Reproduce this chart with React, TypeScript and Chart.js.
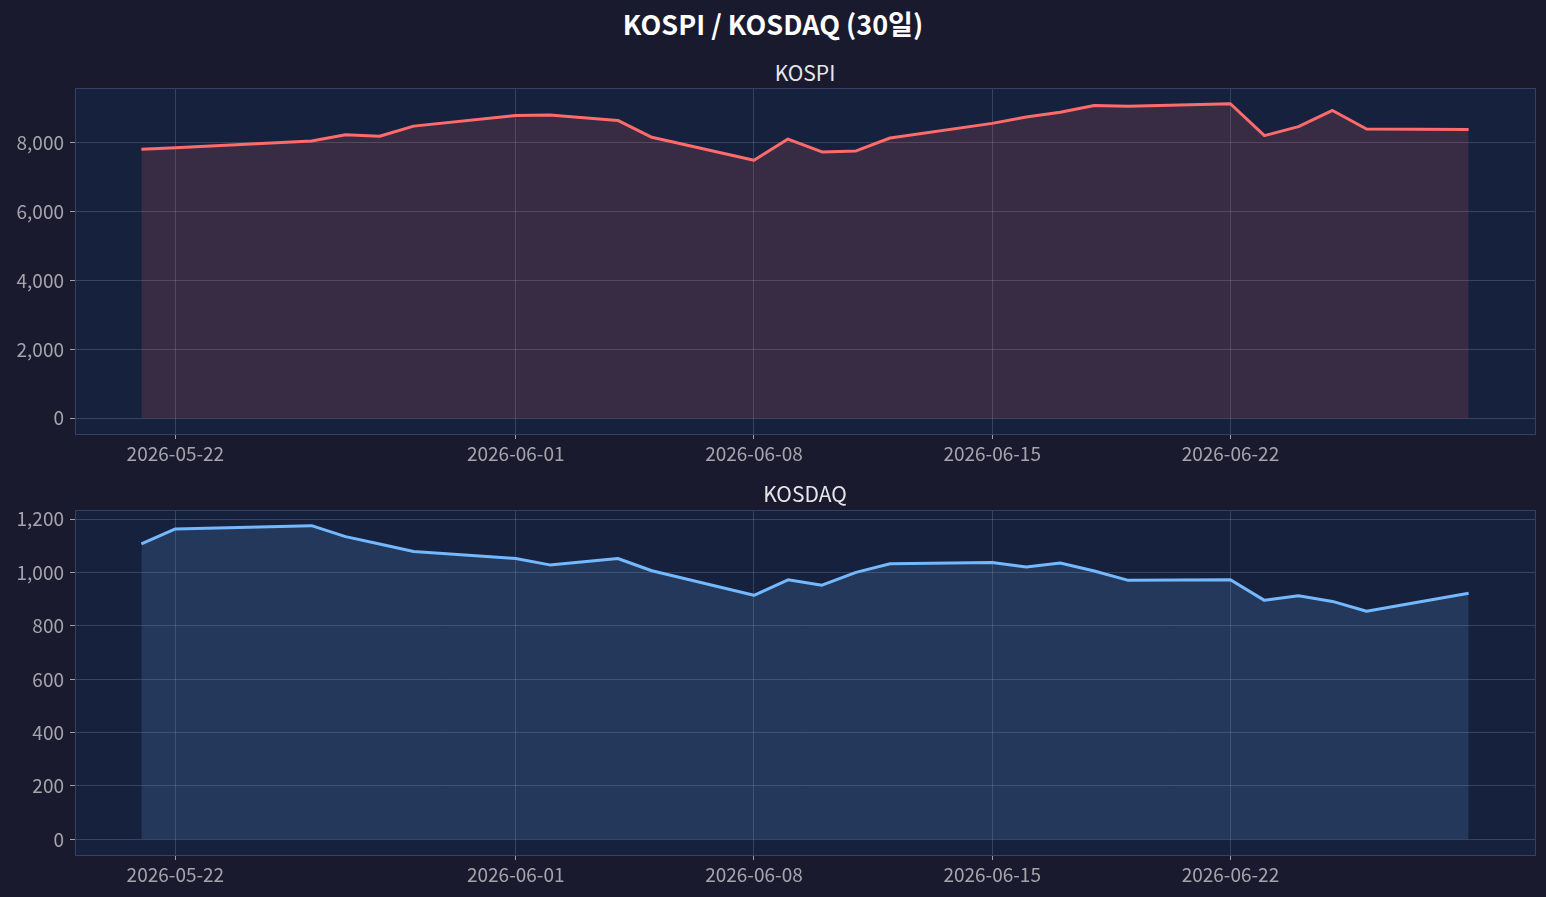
import React, { useEffect, useRef } from "react";
import { Chart, registerables } from "chart.js";

Chart.register(...registerables);

const dates = [
  "2026-05-21", "2026-05-22", "2026-05-26", "2026-05-27", "2026-05-28", "2026-05-29",
  "2026-06-01", "2026-06-02", "2026-06-04", "2026-06-05", "2026-06-08", "2026-06-09",
  "2026-06-10", "2026-06-11", "2026-06-12", "2026-06-15", "2026-06-16", "2026-06-17",
  "2026-06-18", "2026-06-19", "2026-06-22", "2026-06-23", "2026-06-24", "2026-06-25",
  "2026-06-26", "2026-06-29",
];

const kospiValues = [
  7810, 7850, 8050, 8230, 8185, 8480,
  8790, 8800, 8645, 8155, 7490, 8105,
  7730, 7760, 8135, 8560, 8745, 8880,
  9080, 9055, 9130, 8205, 8465, 8935,
  8395, 8385,
];

const kosdaqValues = [
  1108, 1164, 1176, 1135, 1107, 1079,
  1053, 1029, 1053, 1007, 915, 973,
  953, 1001, 1033, 1038, 1021, 1036,
  1006, 971, 973, 896, 913, 892,
  855, 923,
];

const xTickDates = ["2026-05-22", "2026-06-01", "2026-06-08", "2026-06-15", "2026-06-22"];
const kospiYTicks = [0, 2000, 4000, 6000, 8000];
const kosdaqYTicks = [0, 200, 400, 600, 800, 1000, 1200];

const FONT = '"Noto Sans CJK KR", "Noto Sans", sans-serif';
const BG = "#1a1a2e";
const AX_BG = "#16213e";
const SPINE = "#3a3d64";
const GRID = "rgba(255,255,255,0.15)";
const TICK_TXT = "#a4a4ac";
const TICK_SIZE = 19;

const toDay = (s: string) => {
  const [y, m, d] = s.split("-").map(Number);
  return Date.UTC(y, m - 1, d) / 86400000;
};
const fmtDay = (v: number) => {
  const dt = new Date(Math.round(v) * 86400000);
  const p = (n: number) => String(n).padStart(2, "0");
  return `${dt.getUTCFullYear()}-${p(dt.getUTCMonth() + 1)}-${p(dt.getUTCDate())}`;
};

type PanelProps = {
  values: number[];
  yTicks: number[];
  color: string;
  fill: string;
  width: number;
  height: number;
  padTop: number;
  xAxisHeight: number;
};

const frame = {
  id: "frame",
  beforeDraw(chart: any) {
    const { ctx, chartArea: a } = chart;
    ctx.save();
    ctx.fillStyle = AX_BG;
    ctx.fillRect(a.left, a.top, a.right - a.left, a.bottom - a.top);
    ctx.restore();
  },
  afterDraw(chart: any) {
    const { ctx, chartArea: a } = chart;
    ctx.save();
    ctx.strokeStyle = SPINE;
    ctx.lineWidth = 1;
    ctx.strokeRect(Math.round(a.left) + 0.5, Math.round(a.top) + 0.5, Math.round(a.right - a.left), Math.round(a.bottom - a.top));
    ctx.restore();
  },
};

function Panel({ values, yTicks, color, fill, width, height, padTop, xAxisHeight }: PanelProps) {
  const ref = useRef<HTMLCanvasElement>(null);
  useEffect(() => {
    const xs = dates.map(toDay);
    const span = xs[xs.length - 1] - xs[0];
    const xMin = xs[0] - 0.05 * span;
    const xMax = xs[xs.length - 1] + 0.05 * span;
    const vMax = Math.max(...values);
    const yMin = -0.05 * vMax;
    const yMax = vMax + 0.05 * vMax;
    const chart = new Chart(ref.current as HTMLCanvasElement, {
      type: "line",
      data: {
        datasets: [
          {
            data: xs.map((x, i) => ({ x, y: values[i] })),
            borderColor: color,
            backgroundColor: fill,
            borderWidth: 3,
            pointRadius: 0,
            fill: "origin",
            tension: 0,
            borderJoinStyle: "round",
          },
        ],
      },
      options: {
        animation: false,
        responsive: false,
        events: [],
        layout: { padding: { top: padTop, right: 11, left: 0, bottom: 0 } },
        plugins: { legend: { display: false }, tooltip: { enabled: false }, title: { display: false } },
        scales: {
          x: {
            type: "linear",
            min: xMin,
            max: xMax,
            afterBuildTicks: (s: any) => {
              s.ticks = xTickDates.map((d) => ({ value: toDay(d) }));
            },
            afterFit: (s: any) => {
              s.height = xAxisHeight;
              s.paddingLeft = 0;
              s.paddingRight = 0;
            },
            grid: { color: GRID, lineWidth: 1, drawTicks: true, tickLength: 5, tickColor: "#a0a0a8" },
            border: { display: true, color: SPINE },
            ticks: {
              color: TICK_TXT,
              font: { family: FONT, size: TICK_SIZE },
              padding: 3,
              maxRotation: 0,
              autoSkip: false,
              callback: (v: any) => fmtDay(Number(v)),
            },
          },
          y: {
            type: "linear",
            min: yMin,
            max: yMax,
            afterBuildTicks: (s: any) => {
              s.ticks = yTicks.map((v) => ({ value: v }));
            },
            afterFit: (s: any) => {
              s.width = 75;
              s.paddingTop = 0;
              s.paddingBottom = 0;
            },
            grid: { color: GRID, lineWidth: 1, drawTicks: true, tickLength: 5, tickColor: "#a0a0a8" },
            border: { display: true, color: SPINE },
            ticks: {
              color: TICK_TXT,
              font: { family: FONT, size: TICK_SIZE },
              padding: 6,
              autoSkip: false,
              callback: (v: any) => Number(v).toLocaleString("en-US"),
            },
          },
        },
      },
      plugins: [frame],
    });
    return () => chart.destroy();
  }, []);
  return <canvas ref={ref} width={width} height={height} style={{ display: "block", width, height }} />;
}

const subTitle = (top: number): React.CSSProperties => ({
  position: "absolute",
  left: 75,
  width: 1460,
  top,
  textAlign: "center",
  color: "#e6e6ea",
  fontSize: 21,
  lineHeight: "28px",
});

export default function App() {
  return (
    <div
      style={{
        position: "fixed",
        left: 0,
        top: 0,
        width: 1546,
        height: 897,
        background: BG,
        fontFamily: FONT,
        overflow: "hidden",
      }}
    >
      <div
        style={{
          position: "absolute",
          left: 0,
          width: 1546,
          top: 6,
          textAlign: "center",
          color: "#ffffff",
          fontWeight: 700,
          fontSize: 27,
          lineHeight: "36px",
        }}
      >
        KOSPI / KOSDAQ (30일)
      </div>
      <div style={subTitle(58)}>KOSPI</div>
      <div style={{ position: "absolute", left: 0, top: 80 }}>
        <Panel
          values={kospiValues}
          yTicks={kospiYTicks}
          color="#ff6b6b"
          fill="rgba(255,107,107,0.15)"
          width={1546}
          height={400}
          padTop={8}
          xAxisHeight={46}
        />
      </div>
      <div style={subTitle(479)}>KOSDAQ</div>
      <div style={{ position: "absolute", left: 0, top: 500 }}>
        <Panel
          values={kosdaqValues}
          yTicks={kosdaqYTicks}
          color="#74b9ff"
          fill="rgba(116,185,255,0.15)"
          width={1546}
          height={397}
          padTop={10}
          xAxisHeight={42}
        />
      </div>
    </div>
  );
}
